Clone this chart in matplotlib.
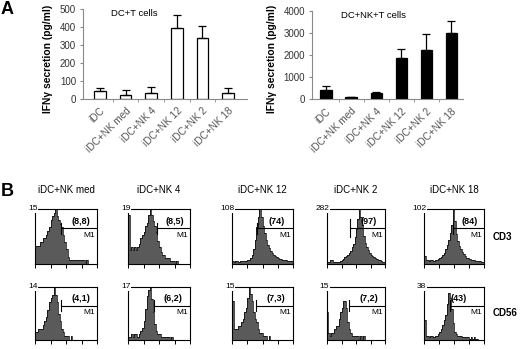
"""IFN-gamma secretion bars (panel A) and CD3 / CD56 flow histograms (panel B)."""

import matplotlib
import numpy as np

matplotlib.use("Agg")

import matplotlib.pyplot as plt  # noqa: E402

plt.rcParams["font.family"] = ["Liberation Sans", "DejaVu Sans"]

W, H = 520, 349

# ---- panel A data -------------------------------------------------------
CONDITIONS = ["iDC", "iDC+NK med", "iDC+NK 4", "iDC+NK 12", "iDC+NK 2", "iDC+NK 18"]
DC_T = [45, 24, 35, 392, 338, 34]
DC_T_ERR = [17, 24, 30, 74, 65, 28]
DC_NK_T = [421, 105, 270, 1850, 2241, 3008]
DC_NK_T_ERR = [196, 15, 46, 406, 692, 542]
DC_T_TICKS = [0, 100, 200, 300, 400, 500]
DC_NK_T_TICKS = [0, 1000, 2000, 3000, 4000]

# ---- panel B data (counts per 0.1-decade bin, 4 decades) ---------------
COLUMNS = ["iDC+NK med", "iDC+NK 4", "iDC+NK 12", "iDC+NK 2", "iDC+NK 18"]
MARKERS = ["CD3", "CD56"]
CD3_COUNTS = [
    [5, 5, 5, 6, 6, 7, 7, 8, 9, 10, 12, 13, 14, 15, 13, 12, 11, 10, 8, 6,
     4, 2, 1, 1, 1, 1, 1, 1, 1, 1, 1, 1, 0, 1, 0, 0, 0, 0, 0, 0],
    [17, 5, 6, 5, 6, 5, 6, 7, 9, 10, 11, 13, 14, 17, 19, 17, 15, 13, 11, 8,
     6, 4, 3, 3, 2, 2, 2, 1, 1, 1, 0, 1, 0, 0, 0, 0, 0, 0, 0, 0],
    [5, 4, 6, 5, 4, 6, 5, 6, 5, 6, 7, 8, 12, 18, 30, 48, 72, 92, 108, 92,
     75, 60, 48, 38, 32, 25, 21, 17, 15, 13, 11, 10, 9, 8, 7, 7, 6, 6, 5, 5],
    [8, 10, 20, 22, 12, 8, 10, 8, 10, 14, 20, 25, 34, 40, 45, 56, 65, 85, 100, 140,
     180, 230, 282, 240, 200, 145, 110, 85, 70, 55, 48, 40, 35, 30, 28, 22, 18, 15, 12, 10],
    [15, 7, 8, 6, 7, 8, 6, 7, 8, 10, 11, 13, 17, 20, 28, 36, 45, 57, 72, 102,
     80, 55, 42, 33, 28, 22, 18, 15, 12, 11, 9, 8, 7, 7, 6, 6, 5, 6, 4, 3],
]
CD56_COUNTS = [
    [2, 2, 3, 3, 3, 4, 5, 6, 8, 10, 11, 12, 14, 12, 10, 7, 5, 3, 2, 1,
     1, 1, 0, 1, 0, 0, 0, 0, 0, 0, 0, 0, 0, 0, 0, 0, 0, 0, 0, 0],
    [1, 1, 2, 1, 2, 2, 1, 2, 3, 4, 6, 10, 14, 16, 17, 13, 9, 5, 3, 2,
     2, 1, 1, 1, 1, 1, 1, 0, 1, 0, 0, 0, 0, 0, 0, 0, 0, 0, 0, 0],
    [11, 3, 3, 3, 4, 4, 5, 6, 8, 9, 12, 15, 13, 11, 8, 6, 5, 3, 2, 2,
     1, 1, 1, 0, 1, 0, 0, 0, 0, 0, 0, 0, 0, 0, 0, 0, 0, 0, 0, 0],
    [8, 2, 1, 2, 2, 3, 4, 4, 6, 8, 9, 11, 11, 9, 5, 3, 2, 1, 1, 1,
     1, 1, 0, 1, 0, 1, 0, 0, 0, 0, 0, 0, 0, 0, 0, 0, 0, 0, 0, 0],
    [14, 3, 3, 2, 3, 3, 2, 3, 3, 4, 6, 8, 11, 14, 18, 26, 34, 30, 22, 12,
     6, 4, 3, 3, 3, 2, 2, 2, 2, 2, 1, 2, 1, 2, 1, 1, 0, 0, 0, 0],
]
CD3_MAX = [15, 19, 108, 282, 102]
CD56_MAX = [14, 17, 15, 15, 38]
CD3_M1 = ["(8,8)", "(8,5)", "(74)", "(97)", "(84)"]
CD56_M1 = ["(4,1)", "(6,2)", "(7,3)", "(7,2)", "(43)"]
CD3_GATE = [1.7, 1.9, 1.65, 1.6, 1.9]
CD56_GATE = [1.7, 1.65, 1.55, 1.55, 1.7]

HIST_FILL = "#5a5a5a"
AXIS_GRAY = "#8a8a8a"
TICK_TEXT = "#333333"


def px_axes(fig, left, top, right, bottom):
    """Add axes from pixel edges measured from the top-left corner."""
    return fig.add_axes(
        [left / W, 1 - bottom / H, (right - left) / W, (bottom - top) / H]
    )


def bar_panel(ax, values, errors, ticks, fill, title, xlim, title_x):
    x = np.arange(len(values))
    ax.bar(x, values, width=0.45, color=fill, edgecolor="black", linewidth=0.9)
    ax.errorbar(
        x, values, yerr=[np.zeros(len(values)), errors], fmt="none",
        ecolor="black", elinewidth=0.9, capsize=3, capthick=0.9,
    )
    ax.set_xlim(*xlim)
    ax.set_ylim(ticks[0], ticks[-1])
    ax.set_yticks(ticks)
    ax.set_xticks(x)
    ax.set_xticklabels(
        CONDITIONS, rotation=45, ha="right", va="top",
        rotation_mode="anchor", fontsize=7.2, color="#555555",
    )
    ax.set_xticks(x[:-1] + 0.5, minor=True)
    ax.tick_params(axis="x", which="major", length=0, pad=5)
    ax.tick_params(axis="x", which="minor", length=2, color=AXIS_GRAY)
    ax.tick_params(axis="y", length=2, color=AXIS_GRAY, labelsize=7,
                   labelcolor=TICK_TEXT, pad=3)
    for side in ("top", "right"):
        ax.spines[side].set_visible(False)
    for side in ("left", "bottom"):
        ax.spines[side].set_color(AXIS_GRAY)
        ax.spines[side].set_linewidth(0.8)
    ax.set_ylabel("IFNγ secretion (pg/ml)", fontsize=7.4, fontweight="bold")
    ax.text(title_x, 0.95, title, transform=ax.transAxes, fontsize=6.8,
            ha="center", va="center")


def histogram(ax, counts, top, label, gate):
    edges = np.linspace(0, 4, len(counts) + 1)
    ax.stairs(counts, edges, fill=True, color=HIST_FILL, linewidth=0)
    ax.stairs(counts, edges, color="black", linewidth=0.5)
    ax.set_xlim(0, 4)
    ax.set_ylim(0, top)
    ax.set_xticks(range(5))
    ax.set_xticklabels([])
    ax.set_yticks([])
    ax.tick_params(axis="x", length=3, width=0.7, direction="out")
    for spine in ax.spines.values():
        spine.set_linewidth(0.8)
    ax.text(
        0.04, 1.0, str(top), transform=ax.transAxes, ha="right", va="center",
        fontsize=6, zorder=5,
        bbox=dict(facecolor="white", edgecolor="none", pad=0.3),
    )
    gy = 0.65 * top
    ax.plot([gate, 4], [gy, gy], color="black", linewidth=0.8)
    half = 0.16 * top if label == "(97)" else 0.1 * top
    ax.plot([gate, gate], [gy - half, gy + half], color="black", linewidth=0.8)
    if label == "(43)":
        ax.text(gate + 0.05, gy + 0.04 * top, label, ha="left", va="bottom",
                fontsize=6.5, fontweight="bold")
    else:
        ax.text((gate + 4) / 2 + 0.1, gy + 0.04 * top, label, ha="center",
                va="bottom", fontsize=6.5, fontweight="bold")
    ax.text(3.9, gy - 0.06 * top, "M1", ha="right", va="top", fontsize=6)


fig = plt.figure(figsize=(W / 100, H / 100), dpi=100)

ax_left = px_axes(fig, 83, 9, 247, 99)
bar_panel(ax_left, DC_T, DC_T_ERR, DC_T_TICKS, "white", "DC+T cells",
          (-0.66, 5.74), 0.31)
ax_left.yaxis.set_label_coords(-0.18, 0.45)

ax_right = px_axes(fig, 312, 10.7, 463, 99.3)
bar_panel(ax_right, DC_NK_T, DC_NK_T_ERR, DC_NK_T_TICKS, "black", "DC+NK+T cells",
          (-0.56, 5.46), 0.41)
ax_right.yaxis.set_label_coords(-0.232, 0.46)

column_px = [(35, 97), (128, 190), (232, 293), (327, 385), (424, 484)]
row_px = [(209, 264), (287, 340)]
rows = [
    (CD3_COUNTS, CD3_MAX, CD3_M1, CD3_GATE),
    (CD56_COUNTS, CD56_MAX, CD56_M1, CD56_GATE),
]
for r, ((top_px, bottom_px), (counts, maxima, labels, gates)) in enumerate(zip(row_px, rows)):
    for c, (left_px, right_px) in enumerate(column_px):
        ax = px_axes(fig, left_px, top_px, right_px, bottom_px)
        histogram(ax, counts[c], maxima[c], labels[c], gates[c])
    fig.text(493 / W, 1 - (top_px + bottom_px) / 2 / H, MARKERS[r],
             fontsize=7, fontweight="bold", va="center")

for c, (left_px, right_px) in enumerate(column_px):
    fig.text((left_px + right_px) / 2 / W, 1 - 190 / H, COLUMNS[c],
             ha="center", va="center", fontsize=7)

fig.text(1 / W, 1 - 10 / H, "A", fontsize=13, fontweight="bold", va="center")
fig.text(1 / W, 1 - 191 / H, "B", fontsize=13, fontweight="bold", va="center")

fig.savefig("out.png", dpi=100)
